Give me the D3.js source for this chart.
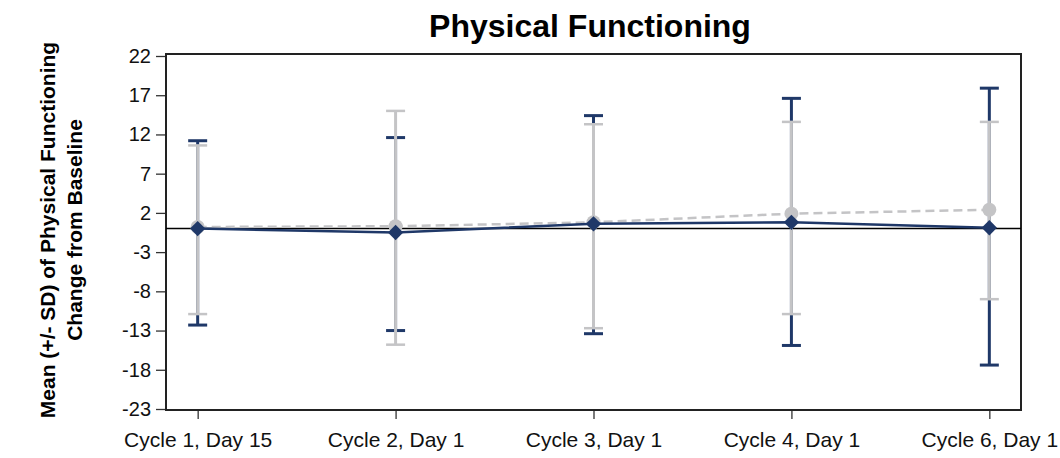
<!DOCTYPE html>
<html>
<head>
<meta charset="utf-8">
<script src="https://cdn.jsdelivr.net/npm/d3@7"></script>
<style>
  body { margin: 0; background: #fff; }
  svg { display: block; }
  text { font-family: "Liberation Sans", Arial, sans-serif; }
</style>
</head>
<body>
<svg id="chart" width="1060" height="458"></svg>
<script>
const categories = ["Cycle 1, Day 15", "Cycle 2, Day 1", "Cycle 3, Day 1", "Cycle 4, Day 1", "Cycle 6, Day 1"];
const yTicks = [22, 17, 12, 7, 2, -3, -8, -13, -18, -23];

// Navy series (diamonds, solid line)
const navyMean = [0.0, -0.5, 0.6, 0.8, 0.1];
const navyUpper = [11.2, 11.6, 14.4, 16.6, 17.9];
const navyLower = [-12.3, -13.0, -13.4, -14.9, -17.4];

// Gray series (circles, dashed line)
const grayMean = [0.2, 0.3, 0.8, 1.9, 2.4];
const grayUpper = [10.6, 15.0, 13.3, 13.6, 13.6];
const grayLower = [-10.9, -14.8, -12.7, -10.9, -9.0];

const title = "Physical Functioning";
const yLabel1 = "Mean (+/- SD) of Physical Functioning";
const yLabel2 = "Change from Baseline";

const NAVY = "#1f3868";
const GRAY = "#c4c4c6";

const svg = d3.select("#chart");
const L = 166, R = 1021, T = 54, B = 410;

const x = d3.scalePoint().domain(categories).range([L, R]).padding(0.16);
const y = d3.scaleLinear().domain([-23, 22]).range([409, 56]);

// Title
svg.append("text")
  .attr("x", 590).attr("y", 37)
  .attr("text-anchor", "middle")
  .attr("font-size", 32).attr("font-weight", "bold")
  .text(title);

// Y label
const yl = svg.append("text")
  .attr("transform", "translate(0,230) rotate(-90)")
  .attr("text-anchor", "middle")
  .attr("font-size", 21).attr("font-weight", "bold");
yl.append("tspan").attr("x", 0).attr("y", 55).text(yLabel1);
yl.append("tspan").attr("x", 0).attr("y", 82).text(yLabel2);

// Axes
const yAxis = d3.axisLeft(y).tickValues(yTicks).tickSize(9).tickPadding(5)
  .tickFormat(d => String(d));
const gy = svg.append("g").attr("transform", `translate(${L - 1},0)`).call(yAxis);
gy.select(".domain").remove();
gy.selectAll(".tick line").attr("stroke", "#333").attr("stroke-width", 1.3);
gy.selectAll(".tick text").attr("font-size", 20).attr("fill", "#111")
  .attr("font-family", "\"Liberation Sans\", Arial, sans-serif");

const xAxis = d3.axisBottom(x).tickSize(8).tickPadding(13);
const gx = svg.append("g").attr("transform", `translate(0,${B + 1})`).call(xAxis);
gx.select(".domain").remove();
gx.selectAll(".tick line").attr("stroke", "#333").attr("stroke-width", 1.3);
gx.selectAll(".tick text").attr("font-size", 21).attr("fill", "#111")
  .attr("font-family", "\"Liberation Sans\", Arial, sans-serif");

// Frame
svg.append("rect")
  .attr("x", L).attr("y", T).attr("width", R - L).attr("height", B - T)
  .attr("fill", "none").attr("stroke", "#222").attr("stroke-width", 2);

// Zero reference line
svg.append("line")
  .attr("x1", L).attr("x2", R).attr("y1", y(0)).attr("y2", y(0))
  .attr("stroke", "#000").attr("stroke-width", 1.5);

const idx = d3.range(categories.length);
const capW = 9.5;

// Navy error bars (drawn first)
const nb = svg.append("g");
nb.selectAll("line.v").data(idx).join("line")
  .attr("x1", i => x(categories[i])).attr("x2", i => x(categories[i]))
  .attr("y1", i => y(navyUpper[i])).attr("y2", i => y(navyLower[i]))
  .attr("stroke", NAVY).attr("stroke-width", 3);
nb.selectAll("line.cu").data(idx).join("line")
  .attr("x1", i => x(categories[i]) - capW).attr("x2", i => x(categories[i]) + capW)
  .attr("y1", i => y(navyUpper[i])).attr("y2", i => y(navyUpper[i]))
  .attr("stroke", NAVY).attr("stroke-width", 3);
nb.selectAll("line.cl").data(idx).join("line")
  .attr("x1", i => x(categories[i]) - capW).attr("x2", i => x(categories[i]) + capW)
  .attr("y1", i => y(navyLower[i])).attr("y2", i => y(navyLower[i]))
  .attr("stroke", NAVY).attr("stroke-width", 3);

// Gray error bars
const gb = svg.append("g");
gb.selectAll("line.v").data(idx).join("line")
  .attr("x1", i => x(categories[i])).attr("x2", i => x(categories[i]))
  .attr("y1", i => y(grayUpper[i])).attr("y2", i => y(grayLower[i]))
  .attr("stroke", GRAY).attr("stroke-width", 3);
gb.selectAll("line.cu").data(idx).join("line")
  .attr("x1", i => x(categories[i]) - capW).attr("x2", i => x(categories[i]) + capW)
  .attr("y1", i => y(grayUpper[i])).attr("y2", i => y(grayUpper[i]))
  .attr("stroke", GRAY).attr("stroke-width", 2.5);
gb.selectAll("line.cl").data(idx).join("line")
  .attr("x1", i => x(categories[i]) - capW).attr("x2", i => x(categories[i]) + capW)
  .attr("y1", i => y(grayLower[i])).attr("y2", i => y(grayLower[i]))
  .attr("stroke", GRAY).attr("stroke-width", 2.5);

// Gray dashed mean line + circles
const line = d3.line().x(d => x(d[0])).y(d => y(d[1]));
svg.append("path")
  .datum(categories.map((c, i) => [c, grayMean[i]]))
  .attr("d", line).attr("fill", "none")
  .attr("stroke", GRAY).attr("stroke-width", 2.5).attr("stroke-dasharray", "9,5");
svg.selectAll("circle.g").data(idx).join("circle")
  .attr("cx", i => x(categories[i])).attr("cy", i => y(grayMean[i]))
  .attr("r", 7).attr("fill", GRAY);

// Navy solid mean line + diamonds
svg.append("path")
  .datum(categories.map((c, i) => [c, navyMean[i]]))
  .attr("d", line).attr("fill", "none")
  .attr("stroke", NAVY).attr("stroke-width", 2.5);
const dsym = d3.symbol().type(d3.symbolDiamond2).size(150);
svg.selectAll("path.d").data(idx).join("path")
  .attr("transform", i => `translate(${x(categories[i])},${y(navyMean[i])})`)
  .attr("d", dsym).attr("fill", NAVY);
</script>
</body>
</html>
